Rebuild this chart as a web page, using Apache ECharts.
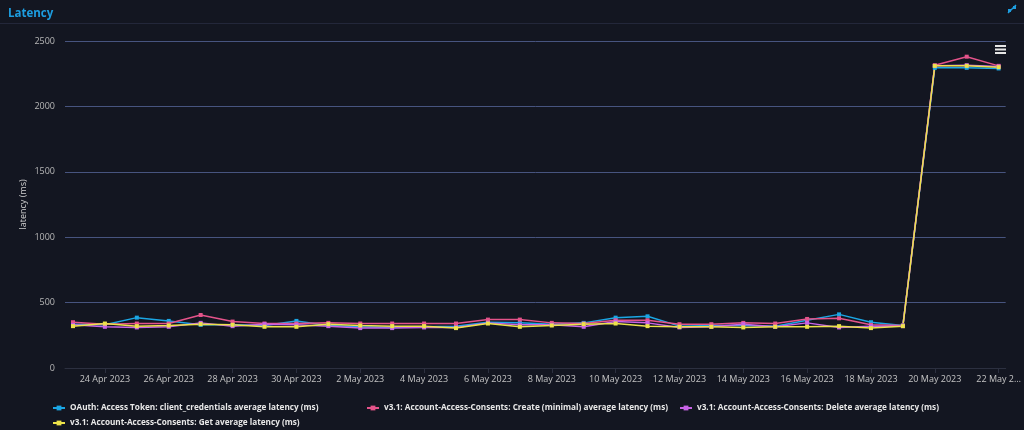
<!DOCTYPE html>
<html lang="en">

<head>
  <meta charset="UTF-8" />
  <title>Latency</title>
  <script src="https://cdn.jsdelivr.net/npm/echarts@6/dist/echarts.min.js"></script>
  <style>
    html, body { margin: 0; padding: 0; background: #131621; }
    #latency { width: 1024px; height: 430px; }
  </style>
</head>

<body>
  <div id="latency"></div>
</body>
<script type="text/javascript">
  // dates, one per day
  var days = [
    '23 Apr 2023', '24 Apr 2023', '25 Apr 2023', '26 Apr 2023', '27 Apr 2023', '28 Apr 2023',
    '29 Apr 2023', '30 Apr 2023', '1 May 2023', '2 May 2023', '3 May 2023', '4 May 2023',
    '5 May 2023', '6 May 2023', '7 May 2023', '8 May 2023', '9 May 2023', '10 May 2023',
    '11 May 2023', '12 May 2023', '13 May 2023', '14 May 2023', '15 May 2023', '16 May 2023',
    '17 May 2023', '18 May 2023', '19 May 2023', '20 May 2023', '21 May 2023', '22 May 2023'
  ];

  // tick labels on the time axis (every 2nd day)
  var tickDays = [1, 3, 5, 7, 9, 11, 13, 15, 17, 19, 21, 23, 25, 27, 29];
  var tickLabels = [
    '24 Apr 2023', '26 Apr 2023', '28 Apr 2023', '30 Apr 2023', '2 May 2023', '4 May 2023',
    '6 May 2023', '8 May 2023', '10 May 2023', '12 May 2023', '14 May 2023', '16 May 2023',
    '18 May 2023', '20 May 2023', '22 May 2…'
  ];

  var seriesNames = [
    'OAuth: Access Token: client_credentials average latency (ms)',
    'v3.1: Account-Access-Consents: Create (minimal) average latency (ms)',
    'v3.1: Account-Access-Consents: Delete average latency (ms)',
    'v3.1: Account-Access-Consents: Get average latency (ms)'
  ];

  var oauthToken = [335, 330, 385, 360, 330, 330, 325, 360, 325, 315, 310, 315, 320, 350, 345,
    335, 345, 385, 395, 320, 325, 325, 320, 365, 410, 350, 325, 2295, 2295, 2290];
  var consentCreate = [350, 335, 340, 340, 405, 355, 340, 340, 345, 340, 340, 340, 340, 370, 370,
    345, 340, 365, 365, 335, 335, 345, 340, 375, 380, 330, 325, 2315, 2380, 2310];
  var consentDelete = [330, 315, 310, 315, 345, 320, 335, 330, 320, 305, 305, 310, 310, 345, 330,
    330, 315, 355, 345, 310, 315, 335, 315, 345, 310, 320, 320, 2310, 2315, 2305];
  var consentGet = [320, 340, 320, 325, 335, 330, 315, 315, 335, 325, 320, 320, 305, 340, 315,
    325, 335, 340, 320, 315, 315, 310, 315, 315, 320, 305, 320, 2310, 2310, 2300];

  var colors = ['#1ba6e4', '#e4538a', '#c763e6', '#ece24a'];
  var allValues = [oauthToken, consentCreate, consentDelete, consentGet];

  var myChart = echarts.init(document.getElementById('latency'));

  // legend laid out in columns, like the original
  var legendSpots = [[47, 399], [361, 399], [674, 399], [47, 414]];

  var option = {
    backgroundColor: '#131621',
    animation: false,
    color: colors,
    title: {
      text: 'Latency',
      left: 3,
      top: 3,
      textStyle: {
        color: '#1d9de0',
        fontFamily: 'Open Sans',
        fontWeight: 'bold',
        fontSize: 11.5
      }
    },
    graphic: [
      // line under the title
      { type: 'rect', shape: { x: 0, y: 23, width: 1024, height: 1 }, style: { fill: '#23273a' } },
      // collapse icon top right
      { type: 'line', shape: { x1: 1008, y1: 13, x2: 1016, y2: 5 }, style: { stroke: '#1d9de0', lineWidth: 1.5 } },
      { type: 'rect', shape: { x: 1008, y: 9, width: 3, height: 3 }, style: { fill: '#1d9de0' } },
      { type: 'rect', shape: { x: 1013, y: 6, width: 3, height: 3 }, style: { fill: '#1d9de0' } },
      // menu icon
      { type: 'rect', shape: { x: 995, y: 45, width: 11, height: 2 }, style: { fill: '#e6e6e6' } },
      { type: 'rect', shape: { x: 995, y: 48.5, width: 11, height: 2 }, style: { fill: '#e6e6e6' } },
      { type: 'rect', shape: { x: 995, y: 52, width: 11, height: 2 }, style: { fill: '#e6e6e6' } }
    ],
    legend: seriesNames.map(function (name, k) {
      return {
        data: [name],
        left: legendSpots[k][0],
        top: legendSpots[k][1],
        itemWidth: 12,
        itemHeight: 6,
        selectedMode: false,
        textStyle: {
          color: '#e8e8e8',
          fontFamily: 'Open Sans',
          fontWeight: 'bold',
          fontSize: 8.2
        }
      };
    }),
    grid: {
      left: 65,
      right: 16,
      top: 41,
      bottom: 62
    },
    xAxis: {
      type: 'value',
      min: -0.25,
      max: 29.22,
      axisLine: { show: true, lineStyle: { color: '#2c3040' } },
      axisTick: {
        show: true,
        customValues: tickDays,
        length: 5,
        lineStyle: { color: '#2c3040' }
      },
      axisLabel: {
        customValues: tickDays,
        color: '#c4c4c4',
        fontFamily: 'Open Sans',
        fontSize: 9,
        margin: 7,
        formatter: function (v) {
          return tickLabels[tickDays.indexOf(Math.round(v))];
        }
      },
      splitLine: { show: false }
    },
    yAxis: {
      type: 'value',
      min: 0,
      max: 2500,
      interval: 500,
      name: 'latency (ms)',
      nameLocation: 'middle',
      nameGap: 37,
      nameMoveOverlap: false,
      nameTextStyle: {
        color: '#d0d0d0',
        fontFamily: 'Open Sans',
        fontSize: 9
      },
      axisLine: { show: false },
      axisTick: { show: false },
      axisLabel: {
        color: '#b8b8b8',
        fontFamily: 'Open Sans',
        fontSize: 9,
        margin: 10,
        formatter: function (v) { return String(v); }
      },
      splitLine: {
        lineStyle: { color: ['#2c3040', '#47547f', '#47547f', '#47547f', '#47547f', '#47547f'], width: 1 }
      }
    },
    series: seriesNames.map(function (name, k) {
      return {
        name: name,
        type: 'line',
        symbol: 'rect',
        symbolSize: 4,
        showAllSymbol: true,
        lineStyle: { width: 1.5 },
        data: allValues[k].map(function (v, i) { return [i, v]; })
      };
    })
  };

  myChart.setOption(option);
</script>

</html>
